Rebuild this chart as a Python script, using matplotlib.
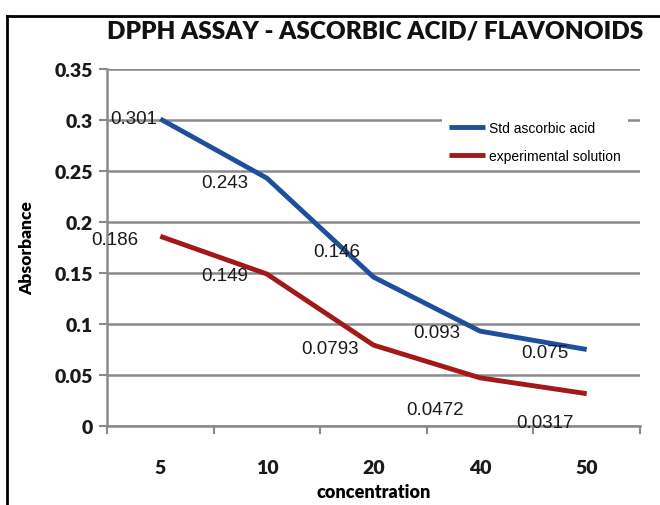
import matplotlib
matplotlib.use("Agg")
from matplotlib import pyplot as plt
from matplotlib.lines import Line2D

# data
concentrations = ["5", "10", "20", "40", "50"]
std_ascorbic = [0.301, 0.243, 0.146, 0.093, 0.075]
experimental = [0.186, 0.149, 0.0793, 0.0472, 0.0317]
std_labels = ["0.301", "0.243", "0.146", "0.093", "0.075"]
exp_labels = ["0.186", "0.149", "0.0793", "0.0472", "0.0317"]

# label offsets in pixels (text centre relative to point)
std_offsets = [(-27, 0), (-42, -4), (-37, 26), (-43, -1), (-42, -3)]
exp_offsets = [(-45, -3), (-42, -1), (-44, -3), (-45, -32), (-42, -29)]

blue = "#1f4e9c"
red = "#a31818"
grid_col = "#8a8a8a"
bold_font = "Lato"
label_font = "Liberation Sans"

fig = plt.figure(figsize=(6.6, 5.06), dpi=100)
ax = fig.add_axes([107 / 660, 1 - 427 / 506, 533 / 660, 357 / 506])

x = list(range(len(concentrations)))
ax.plot(x, std_ascorbic, color=blue, lw=3.5, label="Std ascorbic acid", solid_capstyle="butt")
ax.plot(x, experimental, color=red, lw=3.5, label="experimental solution", solid_capstyle="butt")

for xi, v, s, off in zip(x, std_ascorbic, std_labels, std_offsets):
    ax.annotate(s, (xi, v), xytext=off, textcoords="offset pixels", ha="center", va="center",
                fontsize=13.5, family=label_font, color="#1a1a1a")
for xi, v, s, off in zip(x, experimental, exp_labels, exp_offsets):
    ax.annotate(s, (xi, v), xytext=off, textcoords="offset pixels", ha="center", va="center",
                fontsize=13.5, family=label_font, color="#1a1a1a")

ax.set_xlim(-0.5, len(concentrations) - 0.5)
ax.set_ylim(0, 0.35)
ax.set_yticks([0, 0.05, 0.1, 0.15, 0.2, 0.25, 0.3, 0.35])
ax.set_yticklabels(["0", "0.05", "0.1", "0.15", "0.2", "0.25", "0.3", "0.35"])
ax.set_xticks(x)
ax.set_xticklabels(concentrations)
ax.set_xticks([i - 0.5 for i in range(len(concentrations) + 1)], minor=True)
ax.tick_params(axis="x", which="major", length=0, pad=24)
ax.tick_params(axis="x", which="minor", length=6, width=1.5, color=grid_col, direction="out")
ax.tick_params(axis="y", length=6, width=1.5, color=grid_col, pad=4)
for lab in ax.get_xticklabels() + ax.get_yticklabels():
    lab.set_fontfamily(bold_font)
    lab.set_fontweight("heavy")
    lab.set_fontsize(14)
    lab.set_color("#1a1a1a")

ax.grid(axis="y", color=grid_col, lw=1.8)
ax.set_axisbelow(True)
for side in ["top", "right"]:
    ax.spines[side].set_visible(False)
for side in ["left", "bottom"]:
    ax.spines[side].set_color(grid_col)
    ax.spines[side].set_linewidth(1.8)

leg = ax.legend(loc="upper left", bbox_to_anchor=(328 / 533, 1 - 38 / 357), frameon=True,
                fancybox=False, edgecolor="none", framealpha=1, handlelength=2.6,
                handletextpad=0.3, labelspacing=1.0, borderpad=0.5,
                prop={"family": label_font, "size": 10})

ax.set_xlabel("concentration", fontsize=13, fontweight="heavy", family=bold_font, labelpad=5)
ax.set_ylabel("Absorbance", fontsize=12.5, fontweight="heavy", family=bold_font, labelpad=14)
fig.text(375 / 660, 1 - 32 / 506, "DPPH ASSAY - ASCORBIC ACID/ FLAVONOIDS", ha="center", va="center",
         fontsize=17.5, fontweight="heavy", family=bold_font, color="#111111")

# black frame at top and left like the screenshot
fig.add_artist(Line2D([7 / 660, 7 / 660], [0, 1 - 17 / 506], color="black", lw=2, transform=fig.transFigure))
fig.add_artist(Line2D([7 / 660, 1], [1 - 17 / 506, 1 - 17 / 506], color="black", lw=2, transform=fig.transFigure))

fig.savefig("out.png", dpi=100)
